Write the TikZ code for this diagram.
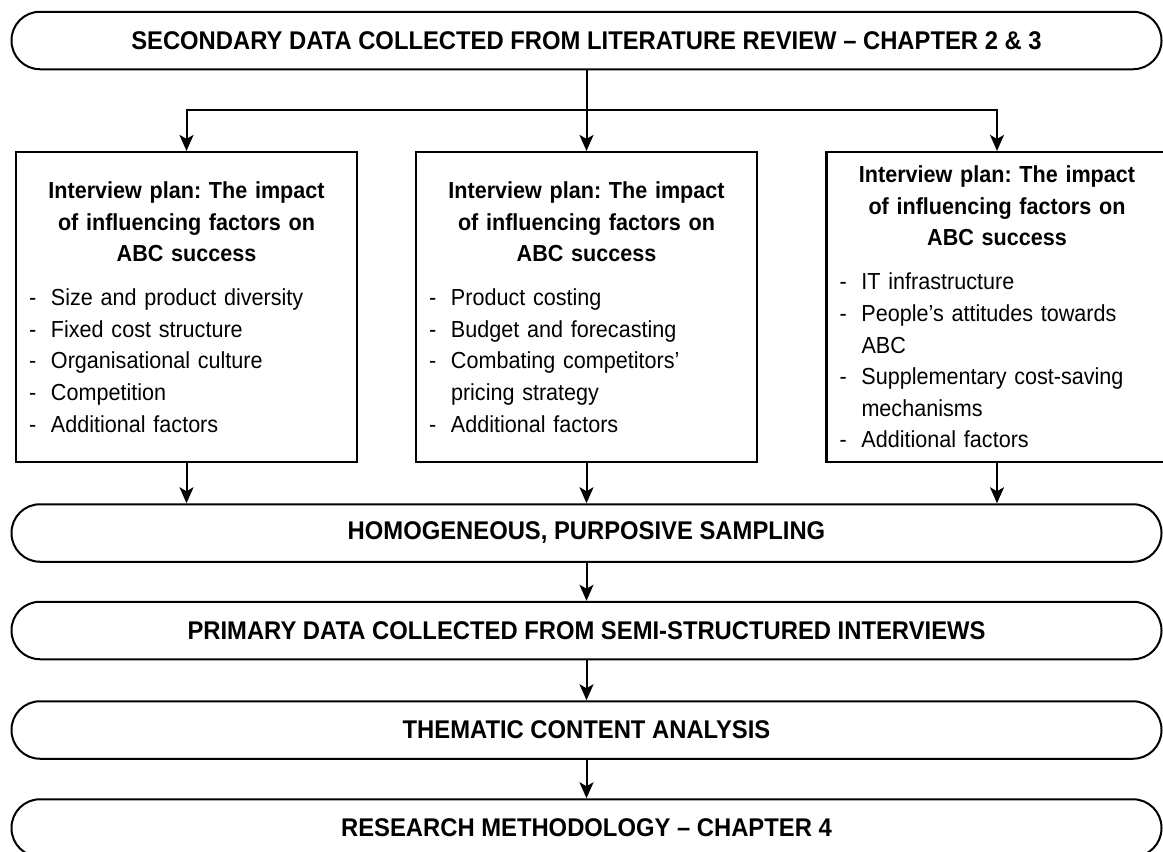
\documentclass[tikz,border=0pt]{standalone}
\usepackage{fontspec}
\setmainfont{Liberation Sans}[FakeStretch=0.93]
\usetikzlibrary{arrows.meta}
\usetikzlibrary{positioning}

\newcommand{\factor}[1]{\par\hangindent=22pt\hangafter=1\noindent\makebox[22pt][l]{-}#1}
\newcommand{\planhead}{{\centering\bfseries Interview plan: The impact\\ of influencing factors on\\ ABC success\par}\vspace{12.4pt}}

\tikzset{
  banner/.style={rectangle, draw, line width=2pt, rounded corners=28.5pt,
    minimum width=1150pt, minimum height=57.5pt, inner sep=0pt,
    font=\frenchspacing\fontsize{25.6}{30}\selectfont\bfseries},
  planbox/.style={rectangle, draw, line width=2.2pt, minimum width=341pt,
    minimum height=310pt, text width=315pt, inner xsep=13pt, inner ysep=0pt,
    align=left, font=\frenchspacing\fontsize{23.2}{31.6}\selectfont},
  flow/.style={line width=2pt, -{Stealth[length=16pt,width=14pt,inset=4pt]}},
}

\begin{document}
\begin{tikzpicture}[x=1pt, y=-1pt]
 \useasboundingbox (0,0) rectangle (1163,852);
 \clip (0,0) rectangle (1163,852);

  \node[banner] (secondary) at (586.5,40.5) {SECONDARY DATA COLLECTED FROM LITERATURE REVIEW – CHAPTER 2 \& 3};

  \node[planbox] (planA) at (186.5,307) {\planhead
    \factor{Size and product diversity}
    \factor{Fixed cost structure}
    \factor{Organisational culture}
    \factor{Competition}
    \factor{Additional factors}};
  \node[planbox] (planB) at (586.5,307) {\planhead
    \factor{Product costing}
    \factor{Budget and forecasting}
    \factor{Combating competitors’\hfil\break pricing strategy}
    \factor{Additional factors}};
  \node[planbox] (planC) at (997,307) {\planhead
    \factor{IT infrastructure}
    \factor{People’s attitudes towards\hfil\break ABC}
    \factor{Supplementary cost-saving\hfil\break mechanisms}
    \factor{Additional factors}};

  \node[banner] (sampling) at (586.5,533) {HOMOGENEOUS, PURPOSIVE SAMPLING};
  \node[banner] (primary) at (586.5,630.5) {PRIMARY DATA COLLECTED FROM SEMI-STRUCTURED INTERVIEWS};
  \node[banner] (thematic) at (586.5,730) {THEMATIC CONTENT ANALYSIS};
  \node[banner] (research) at (586.5,828) {RESEARCH METHODOLOGY – CHAPTER 4};

  \coordinate (bus) at (586.5,110);
  \draw[flow] (secondary) -- (planB);
  \draw[flow] (bus) -| (planA.north);
  \draw[flow] (bus) -| (planC.north);

  \foreach \plan in {planA, planB, planC}
   \draw[flow] (\plan.south) -- (\plan.south |- sampling.north);
  \foreach \from/\to in {sampling/primary, primary/thematic, thematic/research}
   \draw[flow] (\from) -- (\to);
\end{tikzpicture}
\end{document}
